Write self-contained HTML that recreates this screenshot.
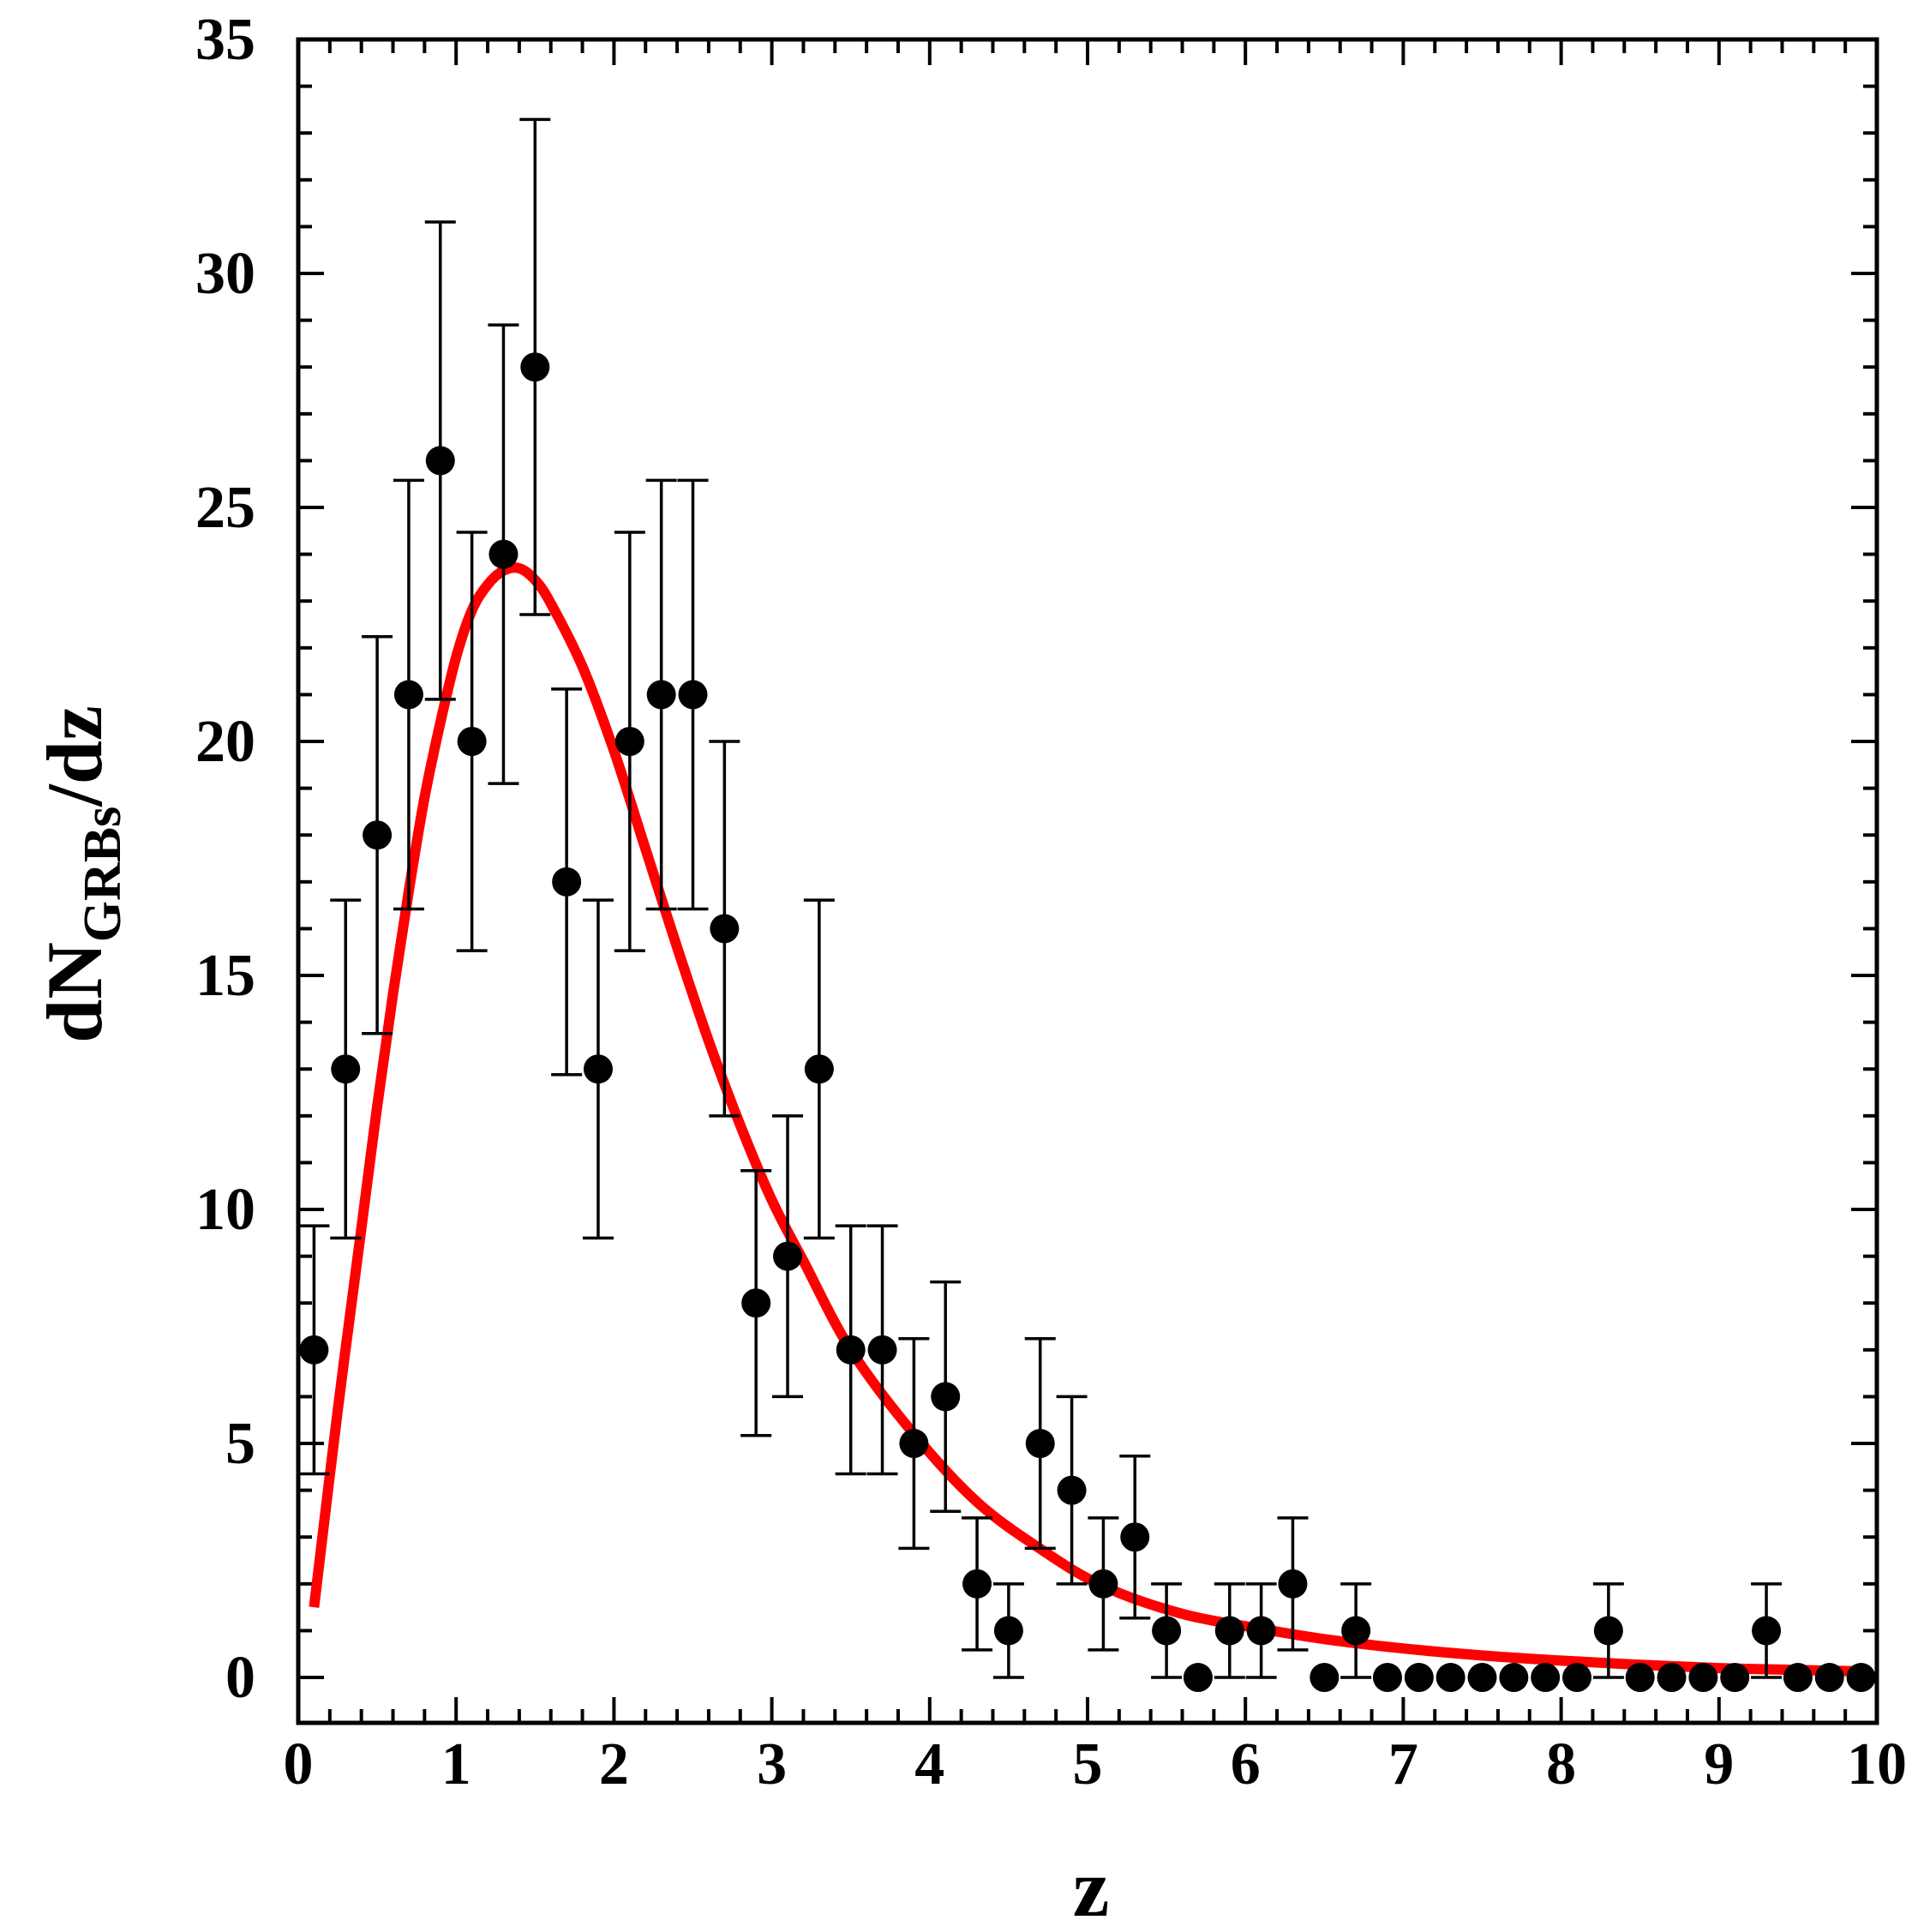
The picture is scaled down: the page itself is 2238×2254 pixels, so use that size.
<!DOCTYPE html>
<html><head><meta charset="utf-8"><style>
html,body{margin:0;padding:0;background:#fff;}
svg{display:block;font-family:"Liberation Serif",serif;font-weight:bold;}
</style></head><body>
<svg id="chart" width="2238" height="2254" viewBox="0 0 2238 2254" xmlns="http://www.w3.org/2000/svg">
<g id="ticks"></g>
<g id="curve"></g>
<g id="points"></g>
<rect x="348" y="46" width="1842" height="1964" fill="none" stroke="#000" stroke-width="5"/>
<g id="labels"></g>
<text x="1273" y="2235" font-size="96" text-anchor="middle">z</text>
<text transform="translate(118,1020) rotate(-90)" font-size="92" text-anchor="middle">dN<tspan font-size="62" dy="22">GRBs</tspan><tspan dy="-22">/dz</tspan></text>
</svg>
<script>
const zValues = [0.1,0.3,0.5,0.7,0.9,1.1,1.3,1.5,1.7,1.9,2.1,2.3,2.5,2.7,2.9,3.1,3.3,3.5,3.7,3.9,4.1,4.3,4.5,4.7,4.9,5.1,5.3,5.5,5.7,5.9,6.1,6.3,6.5,6.7,6.9,7.1,7.3,7.5,7.7,7.9,8.1,8.3,8.5,8.7,8.9,9.1,9.3,9.5,9.7,9.9];
const counts = [7,13,18,21,26,20,24,28,17,13,20,21,21,16,8,9,13,7,7,5,6,2,1,5,4,2,3,1,0,1,1,2,0,1,0,0,0,0,0,0,0,1,0,0,0,0,1,0,0,0];
const errors = [2.65,3.61,4.24,4.58,5.10,4.47,4.90,5.29,4.12,3.61,4.47,4.58,4.58,4.0,2.83,3.0,3.61,2.65,2.65,2.24,2.45,1.41,1,2.24,2.0,1.41,1.73,1,0,1,1,1.41,0,1,0,0,0,0,0,0,0,1,0,0,0,0,1,0,0,0];
const curveZ = [0.1,0.25,0.4,0.5,0.6,0.7,0.8,0.9,1.0,1.1,1.2,1.3,1.4,1.5,1.6,1.8,2.0,2.2,2.4,2.6,2.8,3.0,3.2,3.5,3.9,4.3,4.7,5.1,5.6,6.1,6.5,7,7.5,8,8.5,9,9.5,9.9];
const curveY = [1.5,5.7,9.6,12.2,14.6,16.8,18.8,20.4,21.8,22.8,23.35,23.65,23.7,23.45,22.95,21.6,19.8,17.7,15.6,13.6,11.8,10.2,8.9,7.0,5.2,3.75,2.75,1.95,1.36,1.04,0.82,0.62,0.47,0.36,0.27,0.2,0.16,0.13];
const xTicks = [0,1,2,3,4,5,6,7,8,9,10];
const yTicks = [0,5,10,15,20,25,30,35];

const NS="http://www.w3.org/2000/svg";
const X0=348,X1=2190,XMIN=0,XMAX=10,Y0=2010,Y1=46,YMIN=-0.97,YMAX=35;
const sx=v=>X0+(v-XMIN)/(XMAX-XMIN)*(X1-X0);
const sy=v=>Y0-(v-YMIN)/(YMAX-YMIN)*(Y0-Y1);
function mk(tag,attrs,parent){const e=document.createElementNS(NS,tag);for(const k in attrs)e.setAttribute(k,attrs[k]);parent.appendChild(e);return e;}
const gT=document.getElementById('ticks'),gL=document.getElementById('labels'),gC=document.getElementById('curve'),gP=document.getElementById('points');
for(let i=1;i<50;i++){const v=i*0.2;const major=i%5===0;const len=major?30:16;const x=sx(v);
 const t1=mk('line',{x1:x,y1:Y0,x2:x,y2:Y0-len,stroke:'#000','stroke-width':4},gT);
 
 
 const t2=mk('line',{x1:x,y1:Y1,x2:x,y2:Y1+len,stroke:'#000','stroke-width':4},gT);
 
 }
for(let v=0;v<35;v++){const major=v%5===0;const len=major?30:16;const y=sy(v);
 const t1=mk('line',{x1:X0,y1:y,x2:X0+len,y2:y,stroke:'#000','stroke-width':4},gT);
 
 
 const t2=mk('line',{x1:X1,y1:y,x2:X1-len,y2:y,stroke:'#000','stroke-width':4},gT);
 
 }
xTicks.forEach(v=>{const t=mk('text',{x:sx(v),y:2081,'font-size':70,'text-anchor':'middle'},gL);t.textContent=v;
 
 });
yTicks.forEach(v=>{const t=mk('text',{x:298,y:sy(v)+23,'font-size':70,'text-anchor':'end'},gL);t.textContent=v;
 
 });
const P=curveZ.map((z,i)=>[sx(z),sy(curveY[i])]);
let d='M'+P[0][0]+','+P[0][1];
for(let i=0;i<P.length-1;i++){const p0=P[Math.max(0,i-1)],p1=P[i],p2=P[i+1],p3=P[Math.min(P.length-1,i+2)];
 const c1=[p1[0]+(p2[0]-p0[0])/6,p1[1]+(p2[1]-p0[1])/6],c2=[p2[0]-(p3[0]-p1[0])/6,p2[1]-(p3[1]-p1[1])/6];
 d+=' C'+c1[0]+','+c1[1]+' '+c2[0]+','+c2[1]+' '+p2[0]+','+p2[1];}
const pl=mk('path',{d:d,fill:'none',stroke:'#ff0000','stroke-width':12},gC);


zValues.forEach((z,i)=>{const x=sx(z),v=counts[i],e=errors[i];
 if(e>0){const g=mk('g',{stroke:'#000','stroke-width':3.5},gP);
  
  
  mk('line',{x1:x,y1:sy(v-e),x2:x,y2:sy(v+e)},g);
  mk('line',{x1:x-18,y1:sy(v+e),x2:x+18,y2:sy(v+e)},g);
  mk('line',{x1:x-18,y1:sy(v-e),x2:x+18,y2:sy(v-e)},g);}
 const c=mk('circle',{cx:x,cy:sy(v),r:17,fill:'#000'},gP);
 
 });
</script>
</body></html>
